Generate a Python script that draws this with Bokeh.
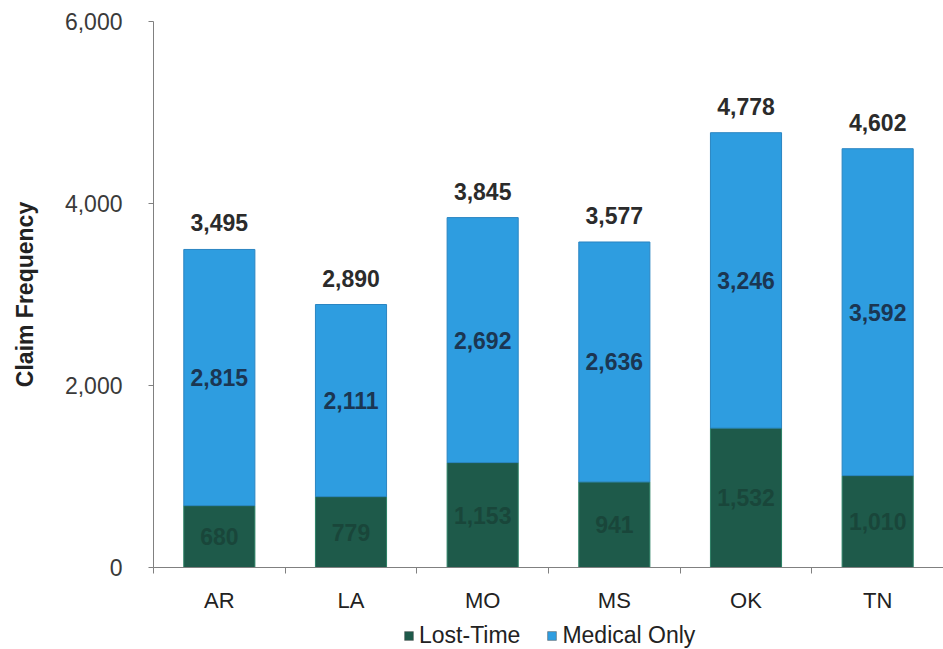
from bokeh.plotting import figure
from bokeh.layouts import column
from bokeh.models import (ColumnDataSource, Range1d, FixedTicker, Legend, LegendItem,
                          LabelSet, NumeralTickFormatter)
from bokeh.core.properties import value
from bokeh.embed import file_html
from bokeh.resources import INLINE

states = ["AR", "LA", "MO", "MS", "OK", "TN"]
lost_time = [680, 779, 1153, 941, 1532, 1010]
medical_only = [2815, 2111, 2692, 2636, 3246, 3592]
totals = [3495, 2890, 3845, 3577, 4778, 4602]
y_ticks = [0, 2000, 4000, 6000]
series_names = ["Lost-Time", "Medical Only"]

LOST_COLOR = "#1e5a4a"
MED_COLOR = "#2e9de0"
FONT = "Liberation Sans"

xs = [i + 0.5 for i in range(len(states))]
src = ColumnDataSource(dict(
    x=xs,
    lost=lost_time,
    med_top=[l + m for l, m in zip(lost_time, medical_only)],
    lost_mid=[l / 2 for l in lost_time],
    med_mid=[l + m / 2 for l, m in zip(lost_time, medical_only)],
    total=totals,
    lost_txt=[f"{v:,}" for v in lost_time],
    med_txt=[f"{v:,}" for v in medical_only],
    tot_txt=[f"{v:,}" for v in totals],
))

p = figure(width=943, height=615, output_backend="svg", toolbar_location=None,
           x_range=Range1d(0, len(states)), y_range=Range1d(0, 6000),
           min_border_left=153, min_border_right=0, min_border_top=21,
           min_border_bottom=42)
p.outline_line_color = None
p.grid.grid_line_color = None
p.background_fill_color = "white"
p.border_fill_color = "white"

r_lost = p.vbar(x="x", width=0.54, bottom=0, top="lost", source=src,
                fill_color=LOST_COLOR, line_color="#2b7f64", line_width=1)
r_med = p.vbar(x="x", width=0.54, bottom="lost", top="med_top", source=src,
               fill_color=MED_COLOR, line_color="#2a85c2", line_width=1)

# labels
p.add_layout(LabelSet(x="x", y="lost_mid", text="lost_txt", source=src,
                      text_align="center", text_baseline="middle",
                      text_font=value(FONT), text_font_style="bold",
                      text_font_size="23px", text_color="#19463a"))
p.add_layout(LabelSet(x="x", y="med_mid", text="med_txt", source=src,
                      text_align="center", text_baseline="middle",
                      text_font=value(FONT), text_font_style="bold",
                      text_font_size="23px", text_color="#1b3652"))
p.add_layout(LabelSet(x="x", y="total", text="tot_txt", source=src,
                      y_offset=18, text_align="center", text_baseline="alphabetic",
                      text_font=value(FONT), text_font_style="bold",
                      text_font_size="23px", text_color="#2b2b2b"))

# y axis
ya = p.yaxis[0]
ya.ticker = FixedTicker(ticks=y_ticks)
ya.formatter = NumeralTickFormatter(format="0,0")
ya.axis_label = "Claim Frequency"
ya.axis_label_text_font = FONT
ya.axis_label_text_font_style = "bold"
ya.axis_label_text_font_size = "23px"
ya.axis_label_text_color = "#222222"
ya.axis_label_standoff = 24
ya.major_label_text_font = FONT
ya.major_label_text_font_size = "23px"
ya.major_label_text_color = "#3a3a3a"
ya.major_label_standoff = 26
ya.axis_line_color = "#808080"
ya.major_tick_line_color = "#808080"
ya.major_tick_out = 5
ya.major_tick_in = 0
ya.minor_tick_line_color = None

# x axis
xa = p.xaxis[0]
xa.ticker = FixedTicker(ticks=xs, minor_ticks=list(range(len(states) + 1)))
xa.major_label_overrides = {x: s for x, s in zip(xs, states)}
xa.major_label_text_font = FONT
xa.major_label_text_font_size = "22px"
xa.major_label_text_color = "#222222"
xa.major_label_standoff = 14
xa.axis_line_color = "#808080"
xa.major_tick_line_color = None
xa.minor_tick_line_color = "#808080"
xa.minor_tick_out = 6
xa.minor_tick_in = 0

# legend strip
lg = figure(width=943, height=34, output_backend="svg", toolbar_location=None,
            x_range=Range1d(0, 1), y_range=Range1d(0, 1),
            x_axis_type=None, y_axis_type=None,
            min_border=0, min_border_left=0, min_border_right=0,
            min_border_top=0, min_border_bottom=0)
lg.grid.grid_line_color = None
lg.outline_line_color = None
lg.border_fill_color = "white"
# legend swatches only: data placed outside the visible range
lg_src = ColumnDataSource(dict(x=[5.0], top=[5.0]))
d_lost = lg.vbar(x="x", top="top", bottom=4.0, width=0.1, source=lg_src,
                 fill_color=LOST_COLOR, line_color="#555555", line_width=0.5)
d_med = lg.vbar(x="x", top="top", bottom=4.0, width=0.1, source=lg_src,
                fill_color=MED_COLOR, line_color="#555555", line_width=0.5)
legend = Legend(items=[LegendItem(label=series_names[0], renderers=[d_lost]),
                       LegendItem(label=series_names[1], renderers=[d_med])],
                orientation="horizontal", location=(250, 0),
                glyph_width=11, glyph_height=11, label_standoff=5, spacing=26,
                label_text_font=FONT, label_text_font_size="23px",
                label_text_color="#222222", border_line_color=None,
                background_fill_alpha=0, padding=0, margin=0)
lg.add_layout(legend, "center")

layout = column(p, lg, spacing=0)
open("out.html", "w").write(file_html(layout, INLINE))
